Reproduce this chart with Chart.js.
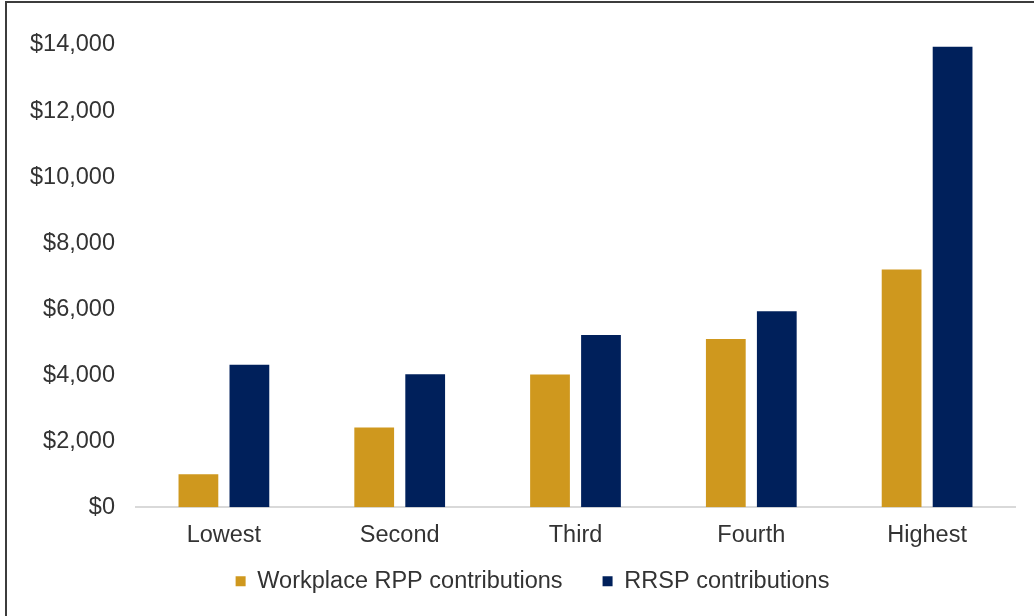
<!DOCTYPE html>
<html>
<head>
<meta charset="utf-8">
<script src="https://cdn.jsdelivr.net/npm/chart.js@4"></script>
<style>
  html, body { margin: 0; padding: 0; background: #fff; overflow: hidden; }
  #wrap { position: relative; width: 1034px; height: 616px; }
  #frame {
    position: absolute; left: 5px; top: 1px; width: 1060px; height: 640px;
    border: 2px solid #3c3c3c; pointer-events: none;
  }
</style>
</head>
<body>
<div id="wrap">
  <canvas id="chart" width="1034" height="616"></canvas>
  <div id="frame"></div>
</div>
<script>
// Contributions by income quintile
const quintiles = ["Lowest", "Second", "Third", "Fourth", "Highest"];
const rppValues = [1000, 2420, 4020, 5100, 7200];
const rrspValues = [4320, 4030, 5220, 5940, 13950];
const seriesNames = ["Workplace RPP contributions", "RRSP contributions"];
const seriesColors = ["#CF981E", "#00205B"];

const fontFamily = "'Liberation Sans', Arial, sans-serif";
const textColor = "#333333";

function money(v) {
  return "$" + v.toLocaleString("en-US");
}

// the legend padding is wide (item gap), so trim its box and nudge it into place
const legendShift = {
  id: "legendShift",
  beforeLayout(chart) {
    const lg = chart.legend;
    if (lg && !lg._trimmed) {
      const fit = lg.fit;
      lg.fit = function () {
        fit.call(this);
        this.height -= 21;
      };
      lg._trimmed = true;
    }
  },
  afterLayout(chart) {
    const lg = chart.legend;
    lg.left += 11;
    lg.right += 11;
    lg.top -= 34;
  },
};

const ctx = document.getElementById("chart").getContext("2d");
new Chart(ctx, {
  type: "bar",
  data: {
    labels: quintiles,
    datasets: [
      {
        label: seriesNames[0],
        data: rppValues,
        backgroundColor: seriesColors[0],
      },
      {
        label: seriesNames[1],
        data: rrspValues,
        backgroundColor: seriesColors[1],
      },
    ],
  },
  options: {
    responsive: false,
    animation: false,
    categoryPercentage: 0.58,
    barPercentage: 0.78,
    layout: {
      padding: { left: 28, right: 19, top: 45, bottom: 0 },
    },
    scales: {
      x: {
        grid: { display: false, drawTicks: false },
        border: { display: true, color: "#d9d9d9", width: 2 },
        ticks: {
          color: textColor,
          font: { family: fontFamily, size: 23.5 },
          padding: 14,
          maxRotation: 0,
        },
      },
      y: {
        min: 0,
        max: 14000,
        grid: { display: false, drawTicks: false },
        border: { display: false },
        ticks: {
          stepSize: 2000,
          color: textColor,
          font: { family: fontFamily, size: 23.5 },
          padding: 21,
          callback: (v) => money(v),
        },
        afterFit: (scale) => {
          scale.width = 108;
        },
      },
    },
    plugins: {
      legend: {
        position: "bottom",
        labels: {
          color: textColor,
          font: { family: fontFamily, size: 23.5 },
          boxWidth: 10,
          boxHeight: 10,
          padding: 40,
        },
      },
      tooltip: { enabled: false },
    },
  },
  plugins: [legendShift],
});
</script>
</body>
</html>
